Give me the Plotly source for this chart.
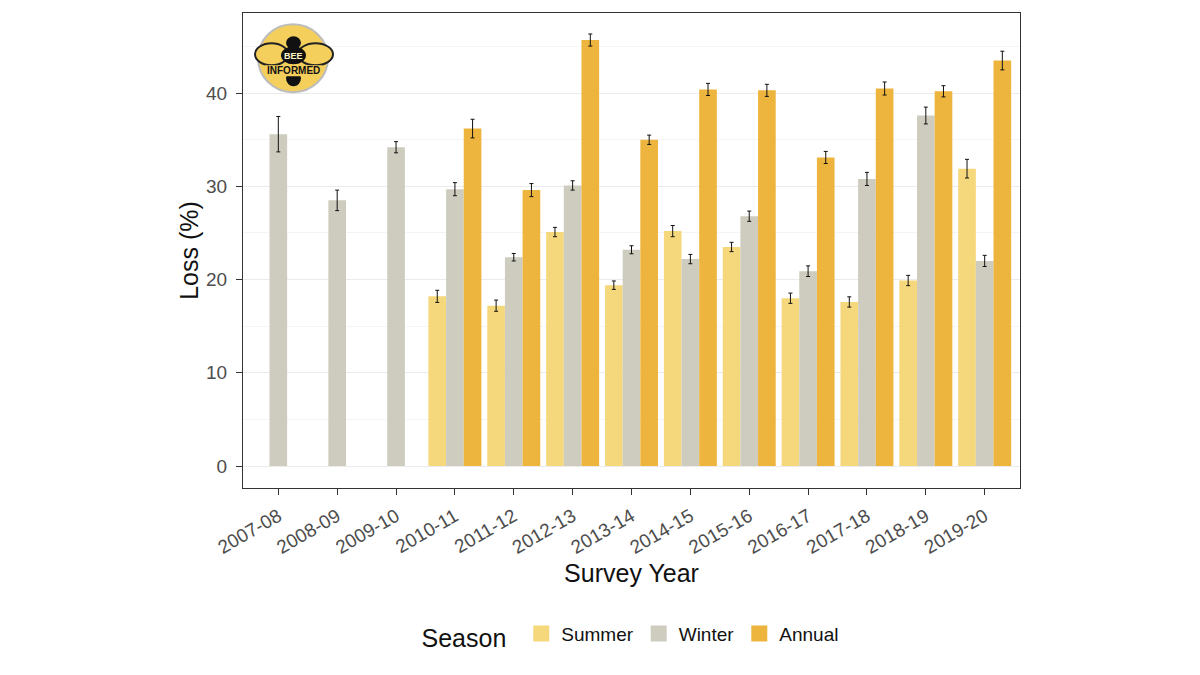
import plotly.graph_objects as go

years = ['2007-08', '2008-09', '2009-10', '2010-11', '2011-12', '2012-13', '2013-14',
         '2014-15', '2015-16', '2016-17', '2017-18', '2018-19', '2019-20']

summer = [None, None, None, 18.2, 17.2, 25.1, 19.4, 25.2, 23.5, 18.0, 17.6, 19.9, 31.9]
summer_err = [None, None, None, 0.65, 0.6, 0.5, 0.45, 0.6, 0.5, 0.55, 0.55, 0.55, 1.0]

winter = [35.6, 28.5, 34.2, 29.7, 22.4, 30.1, 23.2, 22.2, 26.8, 20.9, 30.8, 37.6, 22.0]
winter_err = [1.9, 1.1, 0.6, 0.7, 0.4, 0.5, 0.43, 0.5, 0.55, 0.57, 0.7, 0.9, 0.6]

annual = [None, None, None, 36.2, 29.6, 45.7, 35.0, 40.4, 40.3, 33.1, 40.5, 40.2, 43.5]
annual_err = [None, None, None, 1.0, 0.7, 0.65, 0.5, 0.65, 0.65, 0.65, 0.7, 0.6, 1.0]

colors = {'Summer': '#F5D77C', 'Winter': '#CECCBF', 'Annual': '#EDB53D'}

fig = go.Figure()
for name, vals, errs in [('Summer', summer, summer_err),
                         ('Winter', winter, winter_err),
                         ('Annual', annual, annual_err)]:
    fig.add_trace(go.Bar(
        x=years, y=vals, name=name, showlegend=False, legendgroup=name,
        marker=dict(color=colors[name], line=dict(width=0)),
        error_y=dict(type='data', array=errs, visible=True,
                     color='#111111', thickness=1, width=2),
    ))

# legend entries with bigger square keys, like ggplot's
for name in ['Summer', 'Winter', 'Annual']:
    fig.add_trace(go.Scatter(
        x=[None], y=[None], mode='markers', name=name, legendgroup=name,
        marker=dict(symbol='square', size=20, color=colors[name]),
    ))

# page has an 8px body margin, so the figure starts at (8, 8)
OFF = 8
# wanted plot area in page pixels: x 243..1020, y 12.7..487.7
L, R, T, B = 243, 1020, 12.7, 487.7


def px(x):
    return (x - L) / (R - L)


def py(y):
    return (B - y) / (B - T)


YEL = '#F4CF5C'
# bee informed logo (decoration)
shapes = [
    dict(type='circle', xref='paper', yref='paper', x0=px(258), x1=px(328), y0=py(92), y1=py(24),
         fillcolor=YEL, line=dict(color='#BDBDBD', width=2), layer='above'),
    dict(type='circle', xref='paper', yref='paper', x0=px(255), x1=px(288), y0=py(65), y1=py(43),
         fillcolor=YEL, line=dict(color='#222222', width=2), layer='above'),
    dict(type='circle', xref='paper', yref='paper', x0=px(298), x1=px(333), y0=py(65), y1=py(43),
         fillcolor=YEL, line=dict(color='#222222', width=2), layer='above'),
    # body segments
    dict(type='circle', xref='paper', yref='paper', x0=px(286), x1=px(301), y0=py(49), y1=py(36),
         fillcolor='#111111', line=dict(width=0), layer='above'),
    dict(type='circle', xref='paper', yref='paper', x0=px(281), x1=px(306), y0=py(64), y1=py(46),
         fillcolor='#111111', line=dict(width=0), layer='above'),
    dict(type='circle', xref='paper', yref='paper', x0=px(286), x1=px(301), y0=py(86), y1=py(70),
         fillcolor='#111111', line=dict(width=0), layer='above'),
    dict(type='rect', xref='paper', yref='paper', x0=px(265), x1=px(322), y0=py(76), y1=py(65),
         fillcolor=YEL, line=dict(width=0), layer='above'),
]

annotations = [
    dict(text='<b>BEE</b>', xref='paper', yref='paper', x=px(293.5), y=py(55.5),
         xanchor='center', yanchor='middle', showarrow=False,
         font=dict(size=9, color='#FFF3C4', family='Liberation Sans')),
    dict(text='<b>INFORMED</b>', xref='paper', yref='paper', x=px(293.5), y=py(70.5),
         xanchor='center', yanchor='middle', showarrow=False,
         font=dict(size=10, color='#111111', family='Liberation Sans')),
]

fig.update_layout(
    width=1200 - OFF, height=675 - OFF,
    paper_bgcolor='white', plot_bgcolor='white',
    margin=dict(l=L - OFF, r=1200 - R, t=T - OFF, b=675 - B),
    barmode='group', bargap=0.1, bargroupgap=0,
    font=dict(family='Liberation Sans', color='#111111'),
    shapes=shapes, annotations=annotations,
    legend=dict(orientation='h', x=0.5, xanchor='center', y=-0.312, yanchor='middle',
                title=dict(text='Season ', font=dict(size=25, color='#111111'), side='left'),
                font=dict(size=19, color='#111111'), itemwidth=30, traceorder='normal'),
)

fig.update_xaxes(
    type='category', range=[-0.6, 12.6], tickangle=-30,
    showline=True, mirror=True, linecolor='#333333', linewidth=1,
    ticks='outside', ticklen=6, tickcolor='#333333', ticklabelstandoff=3,
    tickfont=dict(size=19, color='#4D4D4D'),
    showgrid=False,
    title=dict(text='Survey Year', font=dict(size=25, color='#111111'), standoff=7),
)
fig.update_yaxes(
    range=[-2.36, 48.6], tickvals=[0, 10, 20, 30, 40],
    showline=True, mirror=True, linecolor='#333333', linewidth=1,
    ticks='outside', ticklen=6, tickcolor='#333333', ticklabelstandoff=5,
    tickfont=dict(size=19, color='#4D4D4D'),
    showgrid=True, gridcolor='#EBEBEB', gridwidth=1, zeroline=False,
    minor=dict(tickvals=[5, 15, 25, 35, 45], showgrid=True, gridcolor='#F4F4F4', gridwidth=1, ticks=''),
    title=dict(text='Loss (%)', font=dict(size=25, color='#111111'), standoff=0),
)

fig.write_html('out.html')
